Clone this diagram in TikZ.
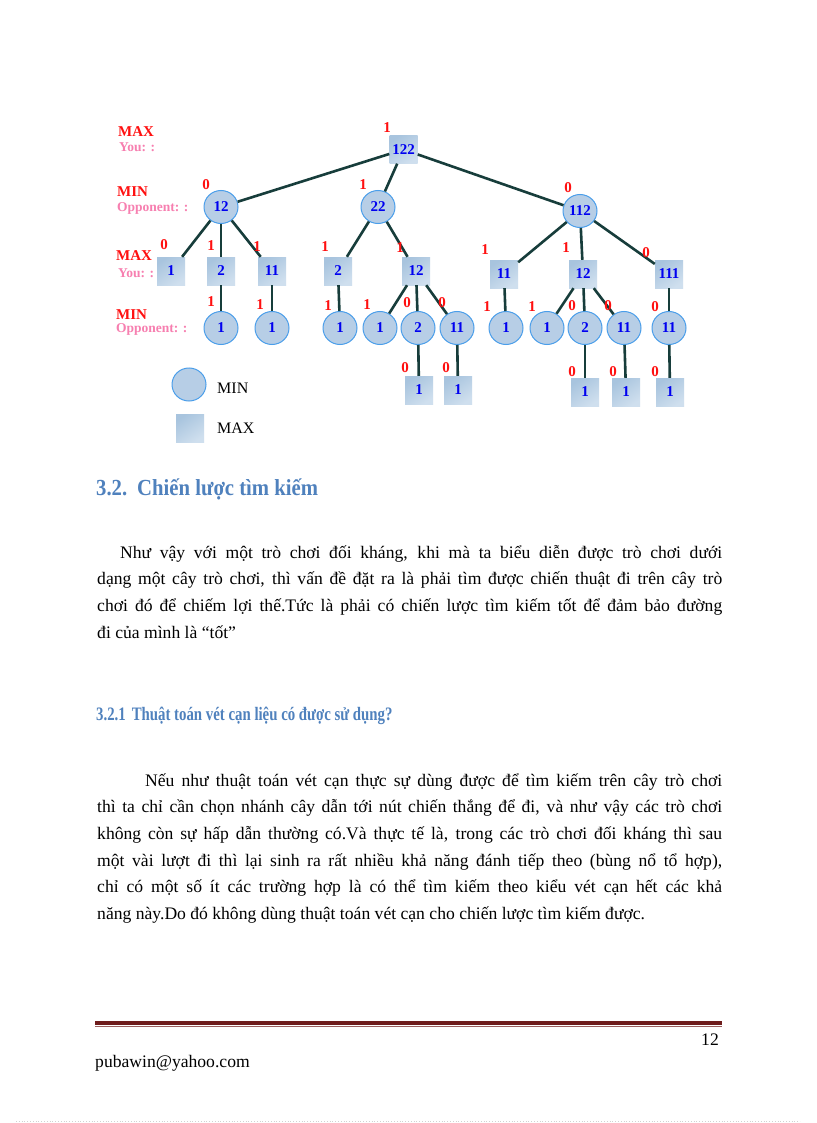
\documentclass[tikz,border=0pt]{standalone}
\usepackage{fontspec}
\setmainfont{Liberation Serif}
\newfontfamily\headfont[FakeStretch=0.9]{Liberation Serif}
\newfontfamily\subheadfont[FakeStretch=0.78]{Liberation Serif}
\usetikzlibrary{shapes.geometric}
\definecolor{edgecol}{HTML}{173D3B}
\definecolor{sqfill}{HTML}{A8C4DE}
\definecolor{sqlight}{HTML}{CFDFEE}
\definecolor{cifill}{HTML}{B7CEE6}
\definecolor{ciborder}{HTML}{4A9EEA}
\definecolor{numblue}{HTML}{0000F0}
\definecolor{lblred}{HTML}{FF1010}
\definecolor{pink}{HTML}{F77FB0}
\definecolor{headblue}{HTML}{4F81BD}
\definecolor{rulered}{HTML}{6E1C1C}
\tikzset{
  mx/.style={rectangle, minimum width=28pt, minimum height=28pt, inner sep=0pt,
    top color=sqfill, bottom color=sqlight, shading angle=35,
    text=numblue, font=\bfseries\fontsize{15}{15}\selectfont},
  mn/.style={ellipse, minimum width=34pt, minimum height=33pt, inner sep=0pt, fill=cifill,
    draw=ciborder, line width=1pt, text=numblue, font=\bfseries\fontsize{15}{15}\selectfont},
  edge/.style={draw=edgecol, line width=2.6pt},
  lbl/.style={text=lblred, inner sep=0pt, font=\bfseries\fontsize{15}{15}\selectfont},
  sidered/.style={text=lblred, inner sep=0pt, anchor=west, font=\bfseries\fontsize{15}{15}\selectfont},
  sidepink/.style={text=pink, inner sep=0pt, anchor=west, font=\bfseries\fontsize{13.5}{14}\selectfont},
  legtxt/.style={inner sep=0pt, anchor=west, font=\fontsize{16}{16}\selectfont},
  body/.style={anchor=base west, inner sep=0pt, font=\fontsize{17.6}{26.7}\selectfont},
}
\begin{document}
\begin{tikzpicture}[x=1pt,y=-1pt]
\useasboundingbox (0,0) rectangle (816,1123);
\fill[white] (0,0) rectangle (816,1123);

% side labels
\node[sidered] (s1) at (118,132) {MAX};
\node[sidepink] (s2) at (119,147) {You: :};
\node[sidered] (s3) at (117,192) {MIN};
\node[sidepink] (s4) at (117,208) {Opponent: :};
\node[sidered] (s5) at (116,256) {MAX};
\node[sidepink] (s6) at (118,273) {You: :};
\node[sidered] (s7) at (116,315) {MIN};
\node[sidepink] (s8) at (116,329) {Opponent: :};

% tree nodes
\node[mx] (r) at (403.5,149.5) {122};
\node[mn] (a) at (221,207) {12};
\node[mn] (b) at (378,207) {22};
\node[mn] (c) at (580,211) {112};

\node[mx] (a1) at (171,271) {1};
\node[mx] (a2) at (221,271) {2};
\node[mx] (a3) at (272,271) {11};
\node[mx] (b1) at (338,271) {2};
\node[mx] (b2) at (416,271) {12};
\node[mx] (c1) at (504,274) {11};
\node[mx] (c2) at (583,274) {12};
\node[mx] (c3) at (669,274) {111};

\node[mn] (a21) at (221,328) {1};
\node[mn] (a31) at (272,328) {1};
\node[mn] (b11) at (340,328) {1};
\node[mn] (b21) at (380,328) {1};
\node[mn] (b22) at (418,328) {2};
\node[mn] (b23) at (457,328) {11};
\node[mn] (c11) at (506,328) {1};
\node[mn] (c21) at (547,328) {1};
\node[mn] (c22) at (585,328) {2};
\node[mn] (c23) at (624,328) {11};
\node[mn] (c31) at (669,328) {11};

\node[mx] (b221) at (419,390) {1};
\node[mx] (b231) at (458,390) {1};
\node[mx] (c221) at (585,392) {1};
\node[mx] (c231) at (626,392) {1};
\node[mx] (c311) at (670,392) {1};

% edges
\foreach \p/\q in {r/a, r/b, r/c, a/a1, a/a2, a/a3, b/b1, b/b2, c/c1, c/c2, c/c3,
  a2/a21, a3/a31, b1/b11, b2/b21, b2/b22, b2/b23, c1/c11, c2/c21, c2/c22, c2/c23, c3/c31,
  b22/b221, b23/b231, c22/c221, c23/c231, c31/c311}
  \draw[edge] (\p) -- (\q);

% value labels
\foreach \x/\y/\t [count=\i] in {387/128/1, 206/185/0, 363/185/1, 568/188/0,
  164/245/0, 211/246/1, 257/247/1, 325/247/1, 400/248/1, 485/250/1, 566/248/1, 646/253/0,
  211/302/1, 260/305/1, 328/306/1, 367/305/1, 407/303/0, 442/303/0,
  487/307/1, 532/307/1, 572/306/0, 608/306/0, 655/307/0,
  405/368/0, 446/368/0, 572/372/0, 613/372/0, 655/372/0}
  \node[lbl] (v\i) at (\x,\y) {\t};

% legend
\node[mn] (legmin) at (189,384.5) {};
\node[legtxt] (legmintext) at (217,388) {MIN};
\node[mx] (legmax) at (190,428) {};
\node[legtxt] (legmaxtext) at (217,428) {MAX};

% headings and text
\node[anchor=base west, inner sep=0pt, text=headblue, font=\headfont\bfseries\fontsize{23}{27}\selectfont]
  (h1) at (96,495) {3.2.\hspace{10pt}Chiến lược tìm kiếm};

\node[body] (p1) at (97,558) {\parbox[t]{625pt}{\hspace*{23pt}Như vậy với một trò chơi đối kháng, khi mà ta biểu diễn được trò chơi dưới\linebreak
dạng một cây trò chơi, thì vấn đề đặt ra là phải tìm được chiến thuật đi trên cây trò\linebreak
chơi đó để chiếm lợi thế.Tức là phải có chiến lược tìm kiếm tốt để đảm bảo đường\linebreak
đi của mình là “tốt”}};

\node[anchor=base west, inner sep=0pt, text=headblue, font=\subheadfont\bfseries\fontsize{19}{22}\selectfont]
  (h2) at (96,720) {3.2.1\hspace{6pt}Thuật toán vét cạn liệu có được sử dụng?};

\node[body] (p2) at (97,786) {\parbox[t]{625pt}{\hspace*{48pt}Nếu như thuật toán vét cạn thực sự dùng được để tìm kiếm trên cây trò chơi\linebreak
thì ta chỉ cần chọn nhánh cây dẫn tới nút chiến thắng để đi, và như vậy các trò chơi\linebreak
không còn sự hấp dẫn thường có.Và thực tế là, trong các trò chơi đối kháng thì sau\linebreak
một vài lượt đi thì lại sinh ra rất nhiều khả năng đánh tiếp theo (bùng nổ tổ hợp),\linebreak
chỉ có một số ít các trường hợp là có thể tìm kiếm theo kiểu vét cạn hết các khả\linebreak
năng này.Do đó không dùng thuật toán vét cạn cho chiến lược tìm kiếm được.}};

% footer
\draw[rulered, line width=4pt] (95,1022.5) -- (722,1022.5);
\draw[rulered!70, line width=1pt] (95,1026.5) -- (722,1026.5);
\node[anchor=base east, inner sep=0pt, font=\fontsize{17.6}{20}\selectfont] (pg) at (719,1045) {12};
\node[anchor=base west, inner sep=0pt, font=\fontsize{17.6}{20}\selectfont] (mail) at (95,1067) {pubawin@yahoo.com};
\draw[gray!35, dotted, line width=0.8pt] (16,1121) -- (800,1121);
\end{tikzpicture}
\end{document}
